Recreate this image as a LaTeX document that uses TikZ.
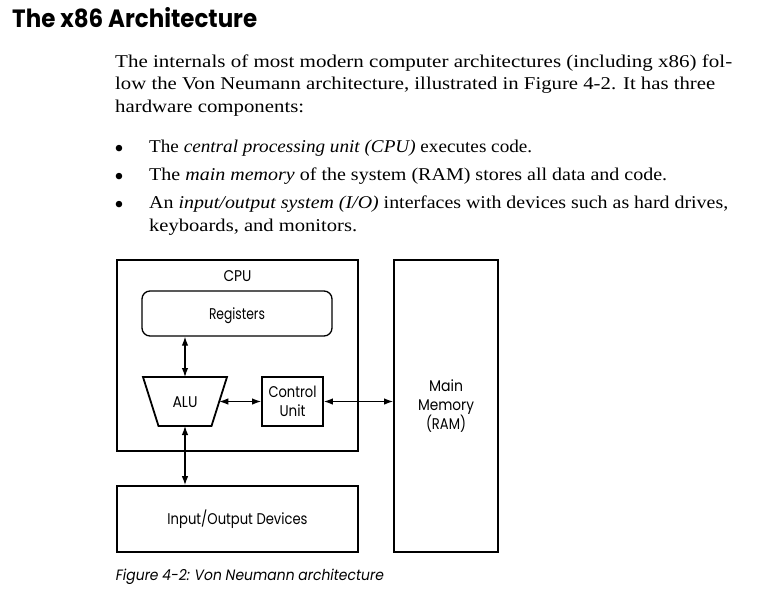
\documentclass[tikz,border=0pt]{standalone}
\usepackage{fontspec}
\usepackage{graphicx}
\setmainfont{Liberation Serif}
\newfontfamily\figfont{Poppins}
\newfontfamily\figitfont[FakeSlant=0.18]{Poppins}
\usetikzlibrary{arrows.meta,calc}
\newcommand\fitw[2]{\resizebox{#1}{\height}{#2}}
\begin{document}
\begin{tikzpicture}[x=1pt,y=-1pt,
  body/.style={anchor=base west, inner sep=0, font=\fontsize{18}{22}\selectfont},
  bul/.style={anchor=base, inner sep=0, font=\fontsize{27}{27}\selectfont},
  box/.style={draw, line width=1.8pt, inner sep=0, font=\figfont\fontsize{15.5}{19}\selectfont},
  one/.style={text height=11pt, text depth=0pt},
  arr/.style={line width=1.2pt, {Latex[length=9pt,width=6.5pt]}-{Latex[length=9pt,width=6.5pt]}}]
\fill[white] (0,0) rectangle (774,595);
\useasboundingbox (0,0) rectangle (774,595);
% title and text
\node[anchor=base west, inner sep=0, font=\figfont\bfseries\fontsize{25}{30}\selectfont] (title) at (12,27) {\fitw{245pt}{The x86 Architecture}};
\node[body] (p1) at (115,67) {\fitw{617pt}{The internals of most modern computer architectures (including x86) fol-}};
\node[body] (p2) at (115,89) {\fitw{600pt}{low the Von Neumann architecture, illustrated in Figure 4-2. It has three}};
\node[body] (p3) at (115,112) {\fitw{189pt}{hardware components:}};
\node[bul] (d1) at (119,157) {\textbullet};
\node[bul] (d2) at (119,185) {\textbullet};
\node[bul] (d3) at (119,213) {\textbullet};
\node[body] (i1) at (149,152) {\fitw{383pt}{The \textit{central processing unit (CPU)} executes code.}};
\node[body] (i2) at (149,180) {\fitw{518pt}{The \textit{main memory} of the system (RAM) stores all data and code.}};
\node[body] (i3) at (149,208) {\fitw{579pt}{An \textit{input/output system (I/O)} interfaces with devices such as hard drives,}};
\node[body] (i4) at (149,231) {\fitw{208pt}{keyboards, and monitors.}};
% diagram
\node[box, minimum width=241pt, minimum height=191pt] (cpu) at (237.5,355.5) {};
\node[anchor=base, inner sep=0, font=\figfont\fontsize{15.5}{19}\selectfont] (cpul) at (237.5,281) {\fitw{28pt}{CPU}};
\node[box, line width=1.3pt, rounded corners=8pt, minimum width=190pt, minimum height=45pt, one] (regs) at (237,313.5) {\fitw{56pt}{Registers}};
\node[box, draw=none, outer sep=0, minimum width=84pt, minimum height=49pt, one] (alu) at (185,401.5) {\fitw{25pt}{ALU}};
\draw[line width=1.8pt, line join=miter] (alu.north west) -- (alu.north east) -- ([xshift=-15.5pt]alu.south east) -- ([xshift=15.5pt]alu.south west) -- cycle;
\node[box, minimum width=61pt, minimum height=49pt, align=center] (cu) at (292.5,401.5) {\fitw{48pt}{Control}\\\fitw{26pt}{Unit}};
\node[box, minimum width=104pt, minimum height=292pt, align=center] (mem) at (446,406) {\fitw{34pt}{Main}\\\fitw{56pt}{Memory}\\\fitw{40pt}{(RAM)}};
\node[box, minimum width=241pt, minimum height=66pt, one] (io) at (237.5,519) {\fitw{140pt}{Input/Output Devices}};
\coordinate (aluR) at ($(alu.north east)!0.5!([xshift=-15.5pt]alu.south east)$);
\draw[arr] (regs.south -| alu.north) -- (alu.north);
\draw[arr] (aluR) -- (cu.west);
\draw[arr] (cu.east) -- (cu.east -| mem.west);
\draw[arr] (alu.south) -- (io.north -| alu.south);
\node[anchor=base west, inner sep=0, font=\figitfont\fontsize{15}{17}\selectfont] (cap) at (115,580) {\fitw{268pt}{Figure 4-2: Von Neumann architecture}};
\end{tikzpicture}
\end{document}
